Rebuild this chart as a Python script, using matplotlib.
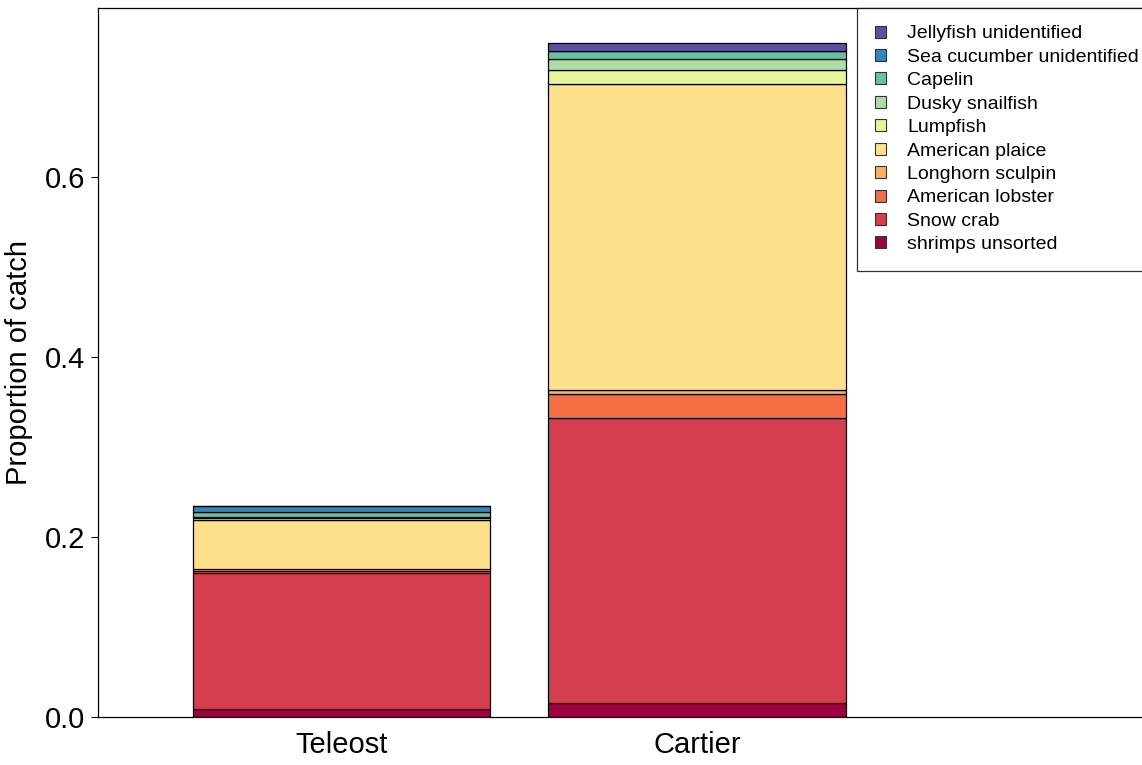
import numpy as np
import matplotlib
matplotlib.use("Agg")
import matplotlib.pyplot as plt
from matplotlib.patches import Patch

plt.rcParams['font.family'] = ['Liberation Sans', 'DejaVu Sans']

vessels = ["Teleost", "Cartier"]
species = ["shrimps unsorted", "Snow crab", "American lobster", "Longhorn sculpin",
           "American plaice", "Lumpfish", "Dusky snailfish", "Capelin",
           "Sea cucumber unidentified", "Jellyfish unidentified"]
teleost = [0.0089, 0.1514, 0.0022, 0.0016, 0.0553, 0.0013, 0.0012, 0.0059, 0.0066, 0.0]
cartier = [0.0152, 0.3167, 0.0270, 0.0041, 0.3407, 0.0155, 0.0123, 0.0081, 0.0, 0.0097]
colors = ["#9E0142", "#D53E4F", "#F46D43", "#FDAE61", "#FEE08B",
          "#E6F598", "#ABDDA4", "#66C2A5", "#3288BD", "#5E4FA2"]

W, H = 1142, 765
fig = plt.figure(figsize=(W / 100, H / 100), dpi=100)
ax = fig.add_axes([98 / W, (H - 717) / H, 1 - 98 / W, (717 - 8) / H])

x = np.arange(len(vessels))
vals = np.array([teleost, cartier])
bottom = np.zeros(len(vessels))
for i, sp in enumerate(species):
    ax.bar(x, vals[:, i], bottom=bottom, width=0.835, color=colors[i],
           edgecolor="black", linewidth=0.9, label=sp)
    bottom += vals[:, i]

ax.set_xlim(-0.683, 2.25)
ax.set_ylim(0, 0.7878)
ax.set_yticks([0.0, 0.2, 0.4, 0.6])
ax.set_yticklabels(["0.0", "0.2", "0.4", "0.6"])
ax.set_xticks(x)
ax.set_xticklabels(vessels)
ax.tick_params(axis="y", direction="out", length=5, width=0.8, labelsize=21, pad=4.5)
ax.tick_params(axis="x", length=0, labelsize=21, pad=10)
ax.set_ylabel("Proportion of catch", fontsize=21, labelpad=8)
for s in ["left", "top", "bottom"]:
    ax.spines[s].set_linewidth(0.9)
ax.spines["right"].set_visible(False)

handles = [Patch(facecolor=colors[i], edgecolor="#333333", linewidth=0.8)
           for i in range(len(species))][::-1]
labels = species[::-1]
leg = fig.legend(handles, labels, loc="upper left",
                 bbox_to_anchor=(857 / W, (H - 8) / H),
                 fontsize=14, frameon=True, fancybox=False,
                 edgecolor="black", handlelength=0.57, handleheight=0.57,
                 handletextpad=1.1, labelspacing=0.33, borderpad=0.9,
                 borderaxespad=0)
leg.get_frame().set_linewidth(0.9)

fig.savefig("out.png", dpi=100)
